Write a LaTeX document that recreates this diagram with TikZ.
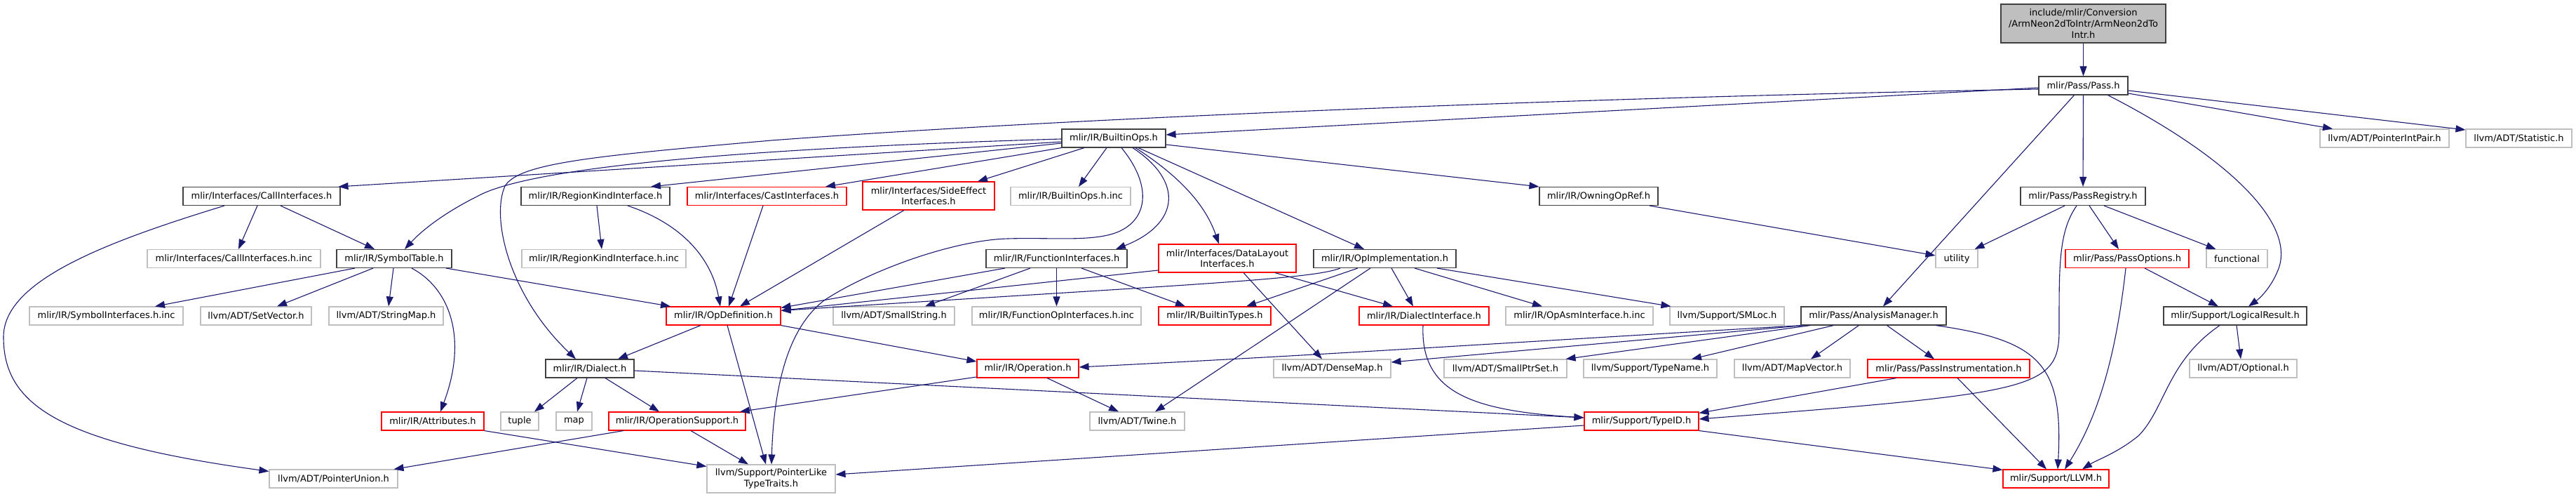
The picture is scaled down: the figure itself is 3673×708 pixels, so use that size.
\documentclass[tikz,border=0pt]{standalone}
\usepackage{fontspec}
\usetikzlibrary{arrows.meta}
\newfontfamily\nodefont{DejaVu Sans}
\definecolor{edgeblue}{HTML}{191970}
\definecolor{nodeblack}{HTML}{404040}
\definecolor{nodered}{HTML}{FF0000}
\definecolor{nodegray}{HTML}{BFBFBF}
\tikzset{
  base/.style={rectangle, inner sep=0pt, line width=1.1pt, align=center,
    font={\nodefont\fontsize{13}{15.6}\selectfont}, minimum height=26pt},
  bk/.style={base, draw=nodeblack},
  rd/.style={base, draw=nodered},
  gy/.style={base, draw=nodegray},
  edge/.style={draw=edgeblue, line width=1.1pt, -{Triangle[length=14pt,width=10pt]}},
}
\begin{document}
\begin{tikzpicture}[x=1pt,y=1pt]
\useasboundingbox (0,0) rectangle (3673,-708);
% row 0/1
\node[bk, fill=nodegray, minimum width=235pt, minimum height=55pt] (root) at (2970.5,-33.5) {include/mlir/Conversion\\/ArmNeon2dToIntr/ArmNeon2dTo\\Intr.h};
\node[bk, minimum width=127pt] (pass) at (2970.5,-122) {mlir/Pass/Pass.h};
% row 2
\node[bk, minimum width=148pt] (bops) at (1588,-197) {mlir/IR/BuiltinOps.h};
\node[gy, minimum width=184pt] (pip) at (3400,-197) {llvm/ADT/PointerIntPair.h};
\node[gy, minimum width=151pt] (stat) at (3591.5,-197) {llvm/ADT/Statistic.h};
% row 3
\node[bk, minimum width=224pt] (call) at (373,-279.5) {mlir/Interfaces/CallInterfaces.h};
\node[bk, minimum width=212pt] (rki) at (849,-279.5) {mlir/IR/RegionKindInterface.h};
\node[rd, minimum width=227pt] (cast) at (1093.5,-279.5) {mlir/Interfaces/CastInterfaces.h};
\node[rd, minimum width=188pt, minimum height=40pt] (side) at (1324,-279) {mlir/Interfaces/SideEffect\\Interfaces.h};
\node[gy, minimum width=171pt] (bopsinc) at (1526.5,-279.5) {mlir/IR/BuiltinOps.h.inc};
\node[bk, minimum width=169pt] (owning) at (2279.5,-279.5) {mlir/IR/OwningOpRef.h};
\node[bk, minimum width=178pt] (preg) at (2970,-279.5) {mlir/Pass/PassRegistry.h};
% row 4
\node[gy, minimum width=247pt] (callinc) at (333.5,-368.5) {mlir/Interfaces/CallInterfaces.h.inc};
\node[bk, minimum width=164pt] (symtab) at (562,-368.5) {mlir/IR/SymbolTable.h};
\node[gy, minimum width=234pt] (rkiinc) at (861,-368.5) {mlir/IR/RegionKindInterface.h.inc};
\node[bk, minimum width=201pt] (func) at (1506.5,-368.5) {mlir/IR/FunctionInterfaces.h};
\node[rd, minimum width=196pt, minimum height=40pt] (dli) at (1750,-368) {mlir/Interfaces/DataLayout\\Interfaces.h};
\node[bk, minimum width=203pt] (opimpl) at (1974.5,-368.5) {mlir/IR/OpImplementation.h};
\node[gy, minimum width=60pt] (utility) at (2790,-368.5) {utility};
\node[rd, minimum width=176pt] (popts) at (3033,-368.5) {mlir/Pass/PassOptions.h};
\node[gy, minimum width=87pt] (functional) at (3189.5,-368.5) {functional};
% row 5
\node[gy, minimum width=219pt] (symif) at (151.5,-450) {mlir/IR/SymbolInterfaces.h.inc};
\node[gy, minimum width=158pt] (setvec) at (365,-450) {llvm/ADT/SetVector.h};
\node[gy, minimum width=163pt] (strmap) at (550.5,-450) {llvm/ADT/StringMap.h};
\node[rd, minimum width=163pt] (opdef) at (1031.5,-450) {mlir/IR/OpDefinition.h};
\node[gy, minimum width=173pt] (smallstr) at (1274.5,-450) {llvm/ADT/SmallString.h};
\node[gy, minimum width=241pt] (fopinc) at (1506.5,-450) {mlir/IR/FunctionOpInterfaces.h.inc};
\node[rd, minimum width=160pt] (btypes) at (1732,-450) {mlir/IR/BuiltinTypes.h};
\node[rd, minimum width=185pt] (dialif) at (2030.5,-450) {mlir/IR/DialectInterface.h};
\node[gy, minimum width=210pt] (opasm) at (2252,-450) {mlir/IR/OpAsmInterface.h.inc};
\node[gy, minimum width=163pt] (smloc) at (2462.5,-450) {llvm/Support/SMLoc.h};
\node[bk, minimum width=207pt] (am) at (2671.5,-450) {mlir/Pass/AnalysisManager.h};
\node[bk, minimum width=204pt] (logres) at (3187,-450) {mlir/Support/LogicalResult.h};
% row 6
\node[bk, minimum width=126pt] (dialect) at (841,-525) {mlir/IR/Dialect.h};
\node[rd, minimum width=145pt] (operation) at (1465.5,-525) {mlir/IR/Operation.h};
\node[gy, minimum width=167pt] (densemap) at (1899.5,-525) {llvm/ADT/DenseMap.h};
\node[gy, minimum width=175pt] (smallptr) at (2146.5,-525) {llvm/ADT/SmallPtrSet.h};
\node[gy, minimum width=190pt] (typename) at (2353,-525) {llvm/Support/TypeName.h};
\node[gy, minimum width=165pt] (mapvec) at (2555.5,-525) {llvm/ADT/MapVector.h};
\node[rd, minimum width=231pt] (pinstr) at (2778.5,-525) {mlir/Pass/PassInstrumentation.h};
\node[gy, minimum width=153pt] (optional) at (3198.5,-525) {llvm/ADT/Optional.h};
% row 7
\node[rd, minimum width=146pt] (attrs) at (617,-600) {mlir/IR/Attributes.h};
\node[gy, minimum width=54pt] (tuple) at (741,-600) {tuple};
\node[gy, minimum width=51pt] (map) at (818.5,-600) {map};
\node[rd, minimum width=195pt] (opsupp) at (965.5,-600) {mlir/IR/OperationSupport.h};
\node[gy, minimum width=135pt] (twine) at (1621.5,-600) {llvm/ADT/Twine.h};
\node[rd, minimum width=163pt] (typeid) at (2340.5,-600) {mlir/Support/TypeID.h};
% row 8
\node[gy, minimum width=183pt] (punion) at (475.5,-682) {llvm/ADT/PointerUnion.h};
\node[gy, minimum width=183pt, minimum height=40pt] (pltt) at (1099.5,-682) {llvm/Support/PointerLike\\TypeTraits.h};
\node[rd, minimum width=151pt] (llvmh) at (2931.5,-682) {mlir/Support/LLVM.h};

% edges
\draw[edge] (root) -- (pass);
\draw[edge] ([yshift=-3pt]pass.west) -- ([yshift=5pt]bops.east);
\draw[edge] ([yshift=-5pt]pass.west) .. controls (2200,-140) and (1500,-170) .. (1100,-200) .. controls (850,-222) and (740,-232) .. (720,-265) .. controls (700,-310) and (725,-420) .. ([xshift=-20pt]dialect.north);
\draw[edge] ([xshift=-13pt]pass.south) -- ([xshift=13.5pt]am.north);
\draw[edge] (pass) -- (preg);
\draw[edge] ([xshift=35pt]pass.south) .. controls (3180,-225) and (3275,-320) .. (3248,-385) .. controls (3238,-410) and (3222,-425) .. ([xshift=19pt]logres.north);
\draw[edge] ([yshift=-11pt]pass.east) -- ([xshift=-74pt]pip.north);
\draw[edge] ([yshift=-7pt]pass.east) -- ([yshift=12pt]stat.west);

\draw[edge] ([yshift=-5pt]bops.west) -- ([xshift=-3pt]call.north east);
\draw[edge] ([yshift=-1pt]bops.west) .. controls (1100,-210) and (760,-235) .. (680,-280) .. controls (630,-305) and (600,-330) .. ([xshift=15pt]symtab.north);
\draw[edge] ([yshift=-7pt]bops.west) -- ([xshift=79pt]rki.north);
\draw[edge] (bops.south west) -- ([xshift=83.5pt]cast.north);
\draw[edge] ([xshift=-42pt]bops.south) -- ([xshift=70pt]side.north);
\draw[edge] ([xshift=-10pt]bops.south) -- ([xshift=11.5pt]bopsinc.north);
\draw[edge] ([xshift=11pt]bops.south) .. controls (1640,-260) and (1640,-310) .. (1595,-330) .. controls (1560,-345) and (1500,-338) .. (1437,-340) .. controls (1360,-342) and (1240,-385) .. (1175,-428) .. controls (1120,-470) and (1103,-560) .. ([xshift=0.5pt]pltt.north);
\draw[edge] ([xshift=27pt]bops.south) .. controls (1690,-260) and (1680,-320) .. ([xshift=84.5pt]func.north);
\draw[edge] ([xshift=31pt]bops.south) .. controls (1680,-250) and (1718,-290) .. ([xshift=-12pt]dli.north);
\draw[edge] ([xshift=35pt]bops.south) -- ([xshift=-29.5pt]opimpl.north);
\draw[edge] ([yshift=-9pt]bops.east) -- (owning.north west);

\draw[edge] ([xshift=-6pt]call.south) -- ([xshift=6.5pt]callinc.north);
\draw[edge] ([xshift=27pt]call.south) -- ([xshift=-28pt]symtab.north);
\draw[edge] ([xshift=-53pt]call.south) .. controls (150,-345) and (5,-400) .. (5,-480) .. controls (5,-575) and (80,-630) .. ([yshift=-3pt]punion.north west);

\draw[edge] ([xshift=2pt]rki.south) -- ([xshift=-3pt]rkiinc.north);
\draw[edge] ([xshift=46pt]rki.south) .. controls (975,-320) and (1015,-370) .. ([xshift=-4.5pt]opdef.north);
\draw[edge] ([xshift=-5.5pt]cast.south) -- ([xshift=7.5pt]opdef.north);
\draw[edge] ([xshift=-35pt]side.south) -- ([xshift=23.5pt]opdef.north);

\draw[edge] ([xshift=-73.5pt]func.south) -- ([yshift=-2pt]opdef.north east);
\draw[edge] ([xshift=-37.5pt]func.south) -- ([xshift=44.5pt]smallstr.north);
\draw[edge] (func) -- (fopinc);
\draw[edge] ([xshift=35.5pt]func.south) -- ([xshift=-42pt]btypes.north);

\draw[edge] ([yshift=-17pt]dli.west) -- ([yshift=-6pt]opdef.north east);
\draw[edge] ([xshift=68pt]dli.south) -- ([xshift=-44.5pt]dialif.north);
\draw[edge] ([xshift=23pt]dli.south) -- ([xshift=-14.5pt]densemap.north);

\draw[edge] ([xshift=-63.5pt]opimpl.south) .. controls (1870,-398) and (1700,-405) .. ([yshift=-6pt]opdef.north east);
\draw[edge] ([xshift=-38.5pt]opimpl.south) -- ([xshift=45pt]btypes.north);
\draw[edge] ([xshift=-20.5pt]opimpl.south) -- ([xshift=25.5pt]twine.north);
\draw[edge] ([xshift=9.5pt]opimpl.south) -- ([xshift=-15.5pt]dialif.north);
\draw[edge] ([xshift=42.5pt]opimpl.south) -- ([xshift=-53pt]opasm.north);
\draw[edge] ([xshift=74.5pt]opimpl.south) -- ([xshift=2pt]smloc.north west);

\draw[edge] ([xshift=72.5pt]owning.south) -- ([yshift=4.5pt]utility.west);
\draw[edge] ([xshift=-26pt]preg.south) -- ([xshift=-5pt]utility.north east);
\draw[edge] ([xshift=9pt]preg.south) -- ([xshift=-12pt]popts.north);
\draw[edge] ([xshift=30pt]preg.south) -- ([xshift=-30pt]functional.north);
\draw[edge] ([xshift=-9pt]preg.south) .. controls (2935,-330) and (2936,-380) .. (2936,-470) .. controls (2936,-555) and (2900,-560) .. ([yshift=3pt]typeid.east);

\draw[edge] ([xshift=25pt]popts.south) -- ([xshift=-24pt]logres.north);
\draw[edge] ([xshift=-2pt]popts.south) .. controls (3020,-480) and (3000,-580) .. ([xshift=12.5pt]llvmh.north);
\draw[edge] ([xshift=2pt]logres.south) -- ([xshift=-3.5pt]optional.north);
\draw[edge] ([xshift=-22pt]logres.south) .. controls (3090,-515) and (3088,-580) .. (3050,-620) .. controls (3020,-645) and (2990,-655) .. ([xshift=37.5pt]llvmh.north);

\draw[edge] ([xshift=2pt]am.south west) .. controls (2200,-485) and (1900,-505) .. ([yshift=2pt]operation.east);
\draw[edge] ([xshift=5pt]am.south west) -- ([yshift=9pt]densemap.east);
\draw[edge] ([xshift=14pt]am.south west) -- ([xshift=-2pt]smallptr.north east);
\draw[edge] ([xshift=47pt]am.south west) -- ([xshift=59pt]typename.north);
\draw[edge] ([xshift=83pt]am.south west) -- ([xshift=26.5pt]mapvec.north);
\draw[edge] ([xshift=123pt]am.south west) -- ([xshift=-20.5pt]pinstr.north);
\draw[edge] ([xshift=88.5pt]am.south) .. controls (2910,-485) and (2942,-520) .. ([xshift=2.5pt]llvmh.north);

\draw[edge] ([xshift=-74.5pt]pinstr.south) -- ([yshift=-2pt]typeid.north east);
\draw[edge] ([xshift=12.5pt]pinstr.south) -- ([xshift=-13.5pt]llvmh.north);
\draw[edge] (typeid.south east) -- ([yshift=-1pt]llvmh.north west);
\draw[edge] ([yshift=-6pt]typeid.west) -- ([yshift=6pt]pltt.east);
\draw[edge] ([xshift=-1.5pt]dialif.south) .. controls (2025,-560) and (2100,-585) .. ([yshift=5pt]typeid.west);

\draw[edge] ([xshift=-56pt]symtab.south) -- ([xshift=69.5pt]symif.north);
\draw[edge] ([xshift=-30pt]symtab.south) -- ([xshift=30pt]setvec.north);
\draw[edge] ([xshift=-1pt]symtab.south) -- ([xshift=3.5pt]strmap.north);
\draw[edge] ([xshift=74pt]symtab.south) -- ([xshift=-75.5pt]opdef.north);
\draw[edge] ([xshift=25pt]symtab.south) .. controls (640,-410) and (668,-480) .. ([xshift=11pt]attrs.north);

\draw[edge] ([xshift=-32.5pt]opdef.south) -- ([xshift=40pt]dialect.north);
\draw[edge] ([xshift=5.5pt]opdef.south) -- ([xshift=-7.5pt]pltt.north);
\draw[edge] (opdef.south east) -- ([yshift=10pt]operation.west);

\draw[edge] ([xshift=-18pt]dialect.south) -- ([xshift=21pt]tuple.north);
\draw[edge] ([xshift=-4pt]dialect.south) -- ([xshift=4.5pt]map.north);
\draw[edge] ([xshift=22pt]dialect.south) -- ([xshift=-25.5pt]opsupp.north);
\draw[edge] ([yshift=-3pt]dialect.east) -- ([yshift=5pt]typeid.west);

\draw[edge] ([yshift=-12pt]operation.west) -- ([xshift=89.5pt]opsupp.north);
\draw[edge] ([xshift=27.5pt]operation.south) -- ([xshift=-26.5pt]twine.north);

\draw[edge] ([xshift=-76.5pt]opsupp.south) -- ([xshift=-6pt]punion.north east);
\draw[edge] ([xshift=19.5pt]opsupp.south) -- ([xshift=-32.5pt]pltt.north);
\draw[edge] (attrs.south east) -- ([yshift=-3pt]pltt.north west);
\end{tikzpicture}
\end{document}
